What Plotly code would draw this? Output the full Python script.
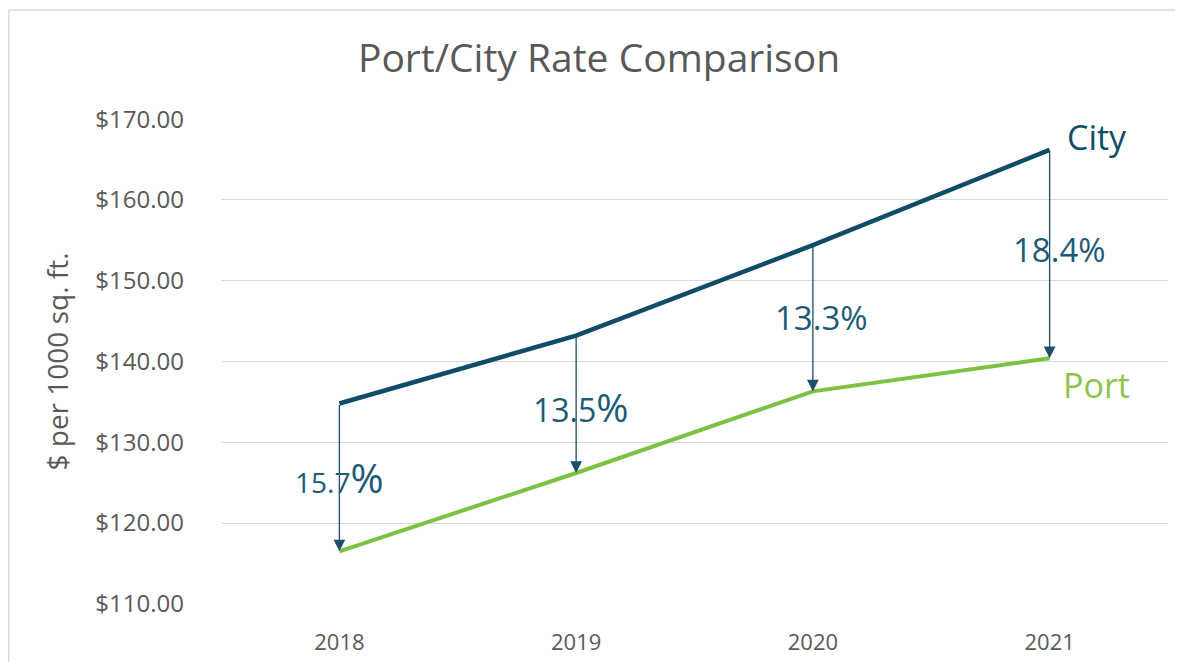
import plotly.graph_objects as go

# ---- data ----
years = ["2018", "2019", "2020", "2021"]
city = [134.8, 143.2, 154.4, 166.2]
port = [116.5, 126.2, 136.3, 140.4]
gap_labels = ["15.7", "13.5", "13.3", "18.4"]
y_ticks = [110, 120, 130, 140, 150, 160, 170]

CITY_C = "#0F4C68"
PORT_C = "#7DC142"
LABEL_C = "#1D5A78"
GRAY = "#595959"
FONT = "Open Sans"

# page has an 8px body margin; figure sized/placed to compensate
W, H = 1167, 654
L, R, T, B = 213, 7, 111, 58

fig = go.Figure()
fig.add_trace(go.Scatter(x=years, y=city, mode="lines", name="City",
                         line=dict(color=CITY_C, width=4.5), showlegend=False))
fig.add_trace(go.Scatter(x=years, y=port, mode="lines", name="Port",
                         line=dict(color=PORT_C, width=4), showlegend=False))

# arrows from City down to Port
for i in range(len(years)):
    fig.add_annotation(x=i, y=port[i], ax=i, ay=city[i], xref="x", yref="y",
                       axref="x", ayref="y", text="", showarrow=True,
                       arrowhead=2, arrowsize=1.8, arrowwidth=1.3,
                       arrowcolor="#1B4F6A", standoff=0, startstandoff=0)

# percentage labels
lab_pos = [(0.0, 125.6, 28, 40), (0.02, 134.4, 32, 39),
           (0.036, 145.5, 33, 33), (0.04, 153.9, 33, 33)]
for idx, (lab, (dx, yy, fs, ps)) in enumerate(zip(gap_labels, lab_pos)):
    fig.add_annotation(x=idx + dx, y=yy, xref="x", yref="y", showarrow=False,
                       text=f"{lab}<span style='font-size:{ps}px'>%</span>",
                       font=dict(family=FONT, size=fs, color=LABEL_C),
                       xanchor="center", yanchor="middle")

# series labels
fig.add_annotation(x=3.2, y=city[-1] + 1.6, xref="x", yref="y", showarrow=False,
                   text="City", font=dict(family=FONT, size=34, color=CITY_C),
                   xanchor="center", yanchor="middle")
fig.add_annotation(x=3.2, y=port[-1] - 3.3, xref="x", yref="y", showarrow=False,
                   text="Port", font=dict(family=FONT, size=34, color="#8DC450"),
                   xanchor="center", yanchor="middle")

# outer chart border (top and left edges)
pw, ph = W - L - R, H - T - B
bx = (0.75 - L) / pw
by = (H - B - 2) / ph
fig.add_shape(type="line", xref="paper", yref="paper", x0=bx, x1=1.2, y0=by, y1=by,
              line=dict(color="#D9D9D9", width=1.5))
fig.add_shape(type="line", xref="paper", yref="paper", x0=bx, x1=bx, y0=by, y1=-0.3,
              line=dict(color="#D9D9D9", width=1.5))

fig.update_layout(
    width=W, height=H,
    margin=dict(l=L, r=R, t=T, b=B, autoexpand=False),
    paper_bgcolor="white", plot_bgcolor="white",
    title=dict(text="Port/City Rate Comparison", x=591 / W, xanchor="center",
               y=1 - 50 / H, yanchor="middle", yref="container",
               font=dict(family=FONT, size=39, color=GRAY)),
    font=dict(family=FONT, color=GRAY),
)
fig.update_xaxes(type="category", categoryorder="array", categoryarray=years,
                 range=[-0.5, 3.5], showgrid=False, showline=False, zeroline=False,
                 ticks="", ticklabelstandoff=23,
                 tickfont=dict(family=FONT, size=22, color=GRAY))
fig.update_yaxes(range=[109.98, 170.02], tickvals=y_ticks,
                 tickformat="$.2f", showgrid=True, gridcolor="#D9D9D9", gridwidth=1.3,
                 zeroline=False, showline=False, ticks="", ticklabelstandoff=36,
                 tickfont=dict(family=FONT, size=24, color=GRAY),
                 title=dict(text="$ per 1000 sq. ft.", standoff=18,
                            font=dict(family=FONT, size=28, color=GRAY)))

fig.write_html("out.html")
